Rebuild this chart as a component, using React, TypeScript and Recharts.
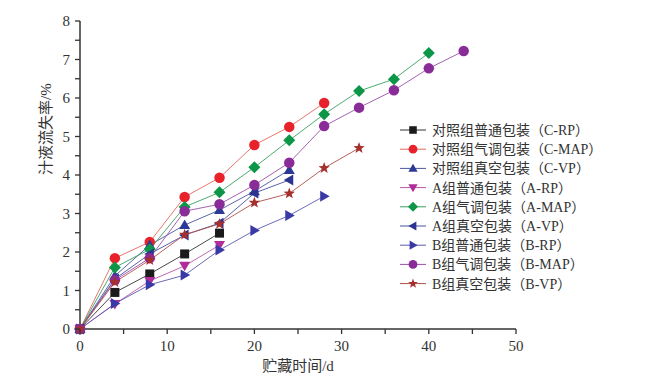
import React from 'react';
import { LineChart, Line, XAxis, YAxis } from 'recharts';

const days = [0, 4, 8, 12, 16, 20, 24, 28, 32, 36, 40, 44];

const cRP = [0, 0.95, 1.43, 1.95, 2.49];
const cMAP = [0, 1.84, 2.26, 3.43, 3.93, 4.78, 5.25, 5.87];
const cVP = [0, 1.38, 2.18, 2.7, 3.09, 3.58, 4.13];
const aRP = [0, 0.65, 1.25, 1.64, 2.18];
const aMAP = [0, 1.6, 2.07, 3.17, 3.55, 4.2, 4.9, 5.58, 6.18, 6.49, 7.17];
const aVP = [0, 1.3, 1.95, 2.44, 2.75, 3.53, 3.87];
const bRP = [0, 0.66, 1.15, 1.4, 2.05, 2.56, 2.95, 3.45];
const bMAP = [0, 1.27, 1.84, 3.06, 3.24, 3.74, 4.32, 5.27, 5.75, 6.2, 6.77, 7.22];
const bVP = [0, 1.22, 1.79, 2.45, 2.73, 3.28, 3.52, 4.18, 4.7];

const xTicks = [0, 5, 10, 15, 20, 25, 30, 35, 40, 45, 50];
const yTicks = [0, 0.5, 1, 1.5, 2, 2.5, 3, 3.5, 4, 4.5, 5, 5.5, 6, 6.5, 7, 7.5, 8];

type Shape = 'square' | 'circle' | 'up' | 'down' | 'diamond' | 'left' | 'right' | 'star';

const SERIES: { key: string; name: string; values: number[]; color: string; line: string; shape: Shape }[] = [
  { key: 'cRP', name: '对照组普通包装（C-RP）', values: cRP, color: '#1b1b1b', line: '#333', shape: 'square' },
  { key: 'cMAP', name: '对照组气调包装（C-MAP）', values: cMAP, color: '#e8222a', line: '#e2685a', shape: 'circle' },
  { key: 'cVP', name: '对照组真空包装（C-VP）', values: cVP, color: '#2b3a96', line: '#4a55a0', shape: 'up' },
  { key: 'aRP', name: 'A组普通包装（A-RP）', values: aRP, color: '#b02c9a', line: '#b85aa8', shape: 'down' },
  { key: 'aMAP', name: 'A组气调包装（A-MAP）', values: aMAP, color: '#0d9648', line: '#3aa060', shape: 'diamond' },
  { key: 'aVP', name: 'A组真空包装（A-VP）', values: aVP, color: '#2b3490', line: '#4a50a0', shape: 'left' },
  { key: 'bRP', name: 'B组普通包装（B-RP）', values: bRP, color: '#3a3aa6', line: '#5a5ab0', shape: 'right' },
  { key: 'bMAP', name: 'B组气调包装（B-MAP）', values: bMAP, color: '#8a2c98', line: '#9a50a8', shape: 'circle' },
  { key: 'bVP', name: 'B组真空包装（B-VP）', values: bVP, color: '#a5302e', line: '#b05048', shape: 'star' },
];

const data = days.map((d, i) => {
  const row: Record<string, number | undefined> = { day: d };
  SERIES.forEach(s => { row[s.key] = s.values[i]; });
  return row;
});

const FONT = '"Liberation Serif", "DejaVu Serif", "Noto Sans CJK SC", serif';

function starPath(cx: number, cy: number, R: number, r: number) {
  let p = '';
  for (let i = 0; i < 10; i++) {
    const a = -Math.PI / 2 + (i * Math.PI) / 5;
    const rad = i % 2 === 0 ? R : r;
    p += `${i === 0 ? 'M' : 'L'}${cx + rad * Math.cos(a)},${cy + rad * Math.sin(a)}`;
  }
  return p + 'Z';
}

function Marker({ shape, cx, cy, color, s = 5 }: { shape: Shape; cx: number; cy: number; color: string; s?: number }) {
  switch (shape) {
    case 'square':
      return <rect x={cx - s * 0.9} y={cy - s * 0.9} width={s * 1.8} height={s * 1.8} fill={color} />;
    case 'circle':
      return <circle cx={cx} cy={cy} r={s * 1.05} fill={color} />;
    case 'up':
      return <path d={`M${cx},${cy - s * 1.1}L${cx + s * 1.1},${cy + s * 0.8}L${cx - s * 1.1},${cy + s * 0.8}Z`} fill={color} />;
    case 'down':
      return <path d={`M${cx},${cy + s * 1.1}L${cx + s * 1.1},${cy - s * 0.8}L${cx - s * 1.1},${cy - s * 0.8}Z`} fill={color} />;
    case 'left':
      return <path d={`M${cx - s * 1.1},${cy}L${cx + s * 0.8},${cy - s * 1.1}L${cx + s * 0.8},${cy + s * 1.1}Z`} fill={color} />;
    case 'right':
      return <path d={`M${cx + s * 1.1},${cy}L${cx - s * 0.8},${cy - s * 1.1}L${cx - s * 0.8},${cy + s * 1.1}Z`} fill={color} />;
    case 'diamond':
      return <path d={`M${cx},${cy - s * 1.2}L${cx + s * 1.2},${cy}L${cx},${cy + s * 1.2}L${cx - s * 1.2},${cy}Z`} fill={color} />;
    case 'star':
      return <path d={starPath(cx, cy, s * 1.2, s * 0.5)} fill={color} />;
  }
  return null;
}

const XTick = (props: any) => {
  const { x, y, payload } = props;
  const major = payload.value % 10 === 0;
  return (
    <g>
      <line x1={x} y1={y - 8} x2={x} y2={y - 3} stroke="#333" strokeWidth={1.3} />
      {major && (
        <text x={x} y={y + 14} textAnchor="middle" fontSize={15} fill="#333" fontFamily={FONT}>
          {payload.value}
        </text>
      )}
    </g>
  );
};

const YTick = (props: any) => {
  const { x, y, payload } = props;
  const major = Number.isInteger(payload.value);
  return (
    <g>
      <line x1={x + 8} y1={y} x2={x + 3} y2={y} stroke="#333" strokeWidth={1.3} />
      {major && (
        <text x={x - 2} y={y + 5} textAnchor="end" fontSize={15} fill="#333" fontFamily={FONT}>
          {payload.value}
        </text>
      )}
    </g>
  );
};

// legend drawn as an overlay so it doesn't eat plot space
const LegendBox = () => (
  <svg width={235} height={180} style={{ position: 'absolute', left: 398, top: 120 }}>
    {SERIES.map((s, i) => {
      const y = 10 + i * 19.2;
      return (
        <g key={s.key}>
          <line x1={2} y1={y} x2={28} y2={y} stroke={s.line} strokeWidth={1} />
          <Marker shape={s.shape} cx={15} cy={y} color={s.color} s={4.2} />
          <text x={34} y={y + 5} fontSize={14} fill="#333" fontFamily={FONT}>{s.name}</text>
        </g>
      );
    })}
  </svg>
);

export default function App() {
  return (
    <div style={{ position: 'absolute', left: 0, top: 0, width: 645, height: 379, background: '#fff' }}>
      <LineChart width={645} height={379} data={data} margin={{ top: 21, right: 129, bottom: 20, left: 40 }}>
        <XAxis
          dataKey="day"
          type="number"
          domain={[0, 50]}
          ticks={xTicks}
          tick={<XTick />}
          tickLine={false}
          axisLine={{ stroke: '#333', strokeWidth: 1.5 }}
          height={30}
          interval={0}
          label={{ value: '贮藏时间/d', position: 'insideBottom', offset: -12, fontSize: 15, fill: '#333', fontFamily: FONT }}
        />
        <YAxis
          type="number"
          domain={[0, 8]}
          ticks={yTicks}
          tick={<YTick />}
          tickLine={false}
          axisLine={{ stroke: '#333', strokeWidth: 1.5 }}
          width={40}
          interval={0}
          label={{ value: '汁液流失率/%', angle: -90, position: 'insideLeft', offset: 6, fontSize: 15, fill: '#333', fontFamily: FONT }}
        />
        {SERIES.map(s => (
          <Line
            key={s.key}
            dataKey={s.key}
            name={s.name}
            stroke={s.line}
            strokeWidth={0.9}
            isAnimationActive={false}
            connectNulls={false}
            dot={(p: any) => (
              p.value == null ? <g key={`${s.key}-${p.index}`} /> :
              <g key={`${s.key}-${p.index}`}><Marker shape={s.shape} cx={p.cx} cy={p.cy} color={s.color} /></g>
            )}
            activeDot={false}
          />
        ))}
      </LineChart>
      <LegendBox />
    </div>
  );
}
